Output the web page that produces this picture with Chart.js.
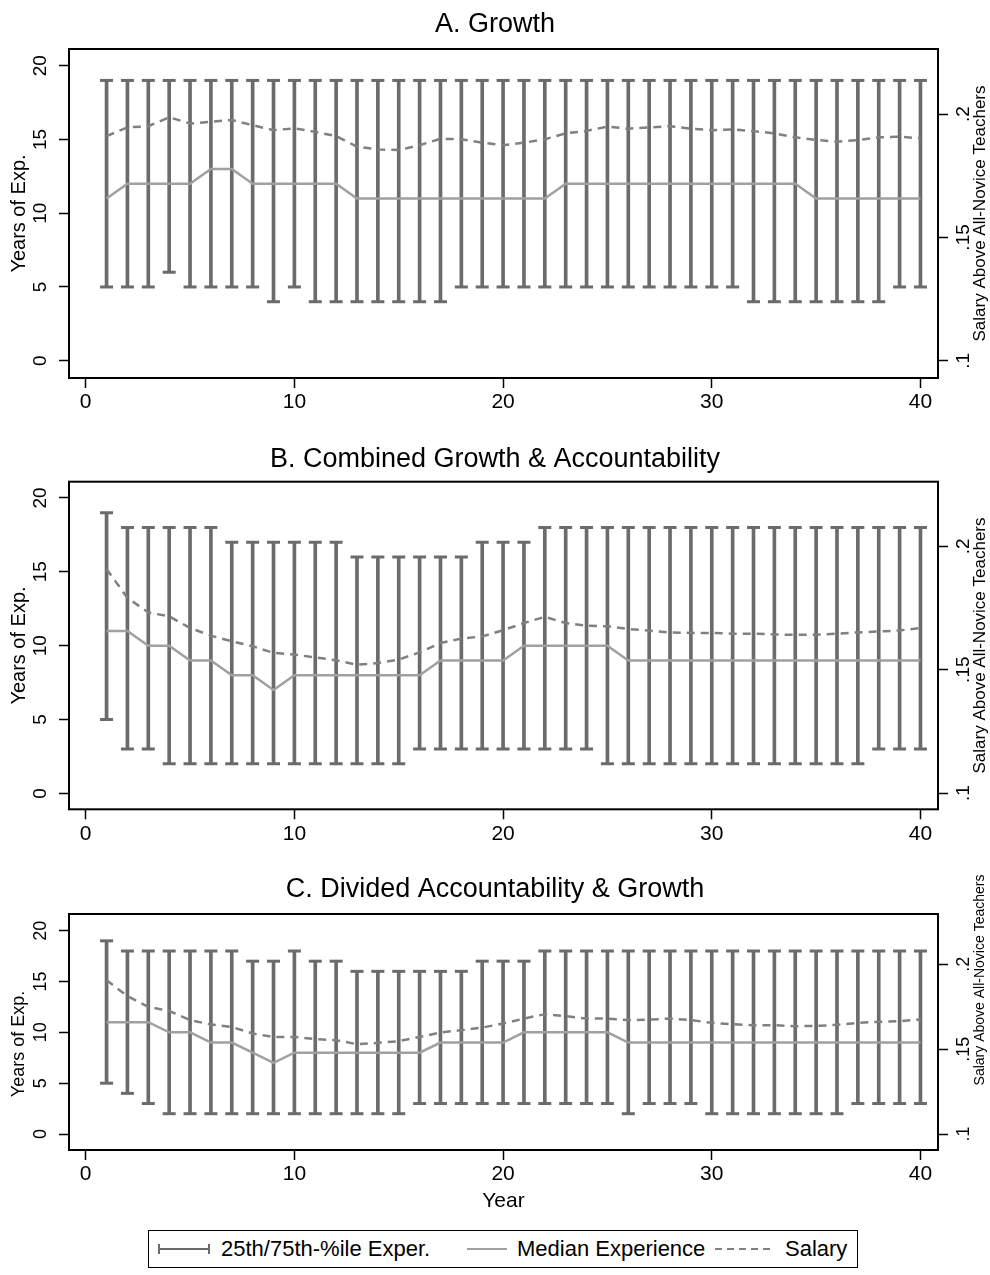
<!DOCTYPE html>
<html>
<head>
<meta charset="utf-8">
<script src="https://cdn.jsdelivr.net/npm/chart.js@4.4.1/dist/chart.umd.min.js"></script>
<style>
  body { margin: 0; background: #fff; width: 990px; height: 1275px; overflow: hidden; position: relative;
         font-family: 'Liberation Sans', Arial, sans-serif; }
  canvas { position: absolute; left: 0; }
  #legend { position: absolute; left: 148px; top: 1230px; width: 708px; height: 36px;
            border: 1.5px solid #000; font-size: 22px; color: #000; }
  #legend span, #legend svg { position: absolute; top: 50%; transform: translateY(-50%); white-space: nowrap; }
</style>
</head>
<body>
<canvas id="panel-a" width="990" height="430" style="top:0px"></canvas>
<canvas id="panel-b" width="990" height="432" style="top:430px"></canvas>
<canvas id="panel-c" width="990" height="360" style="top:862px"></canvas>
<div id="legend">
  <svg style="left:9px" width="52" height="14"><line x1="1" y1="7" x2="51" y2="7" stroke="#6b6b6b" stroke-width="2"/><line x1="1" y1="2" x2="1" y2="12" stroke="#6b6b6b" stroke-width="2"/><line x1="51" y1="2" x2="51" y2="12" stroke="#6b6b6b" stroke-width="2"/></svg>
  <span style="left:72px">25th/75th-%ile Exper.</span>
  <svg style="left:318px" width="40" height="14"><line x1="0" y1="7" x2="40" y2="7" stroke="#a0a0a0" stroke-width="2"/></svg>
  <span style="left:368px">Median Experience</span>
  <svg style="left:566px" width="58" height="14"><line x1="0" y1="7" x2="58" y2="7" stroke="#808080" stroke-width="2" stroke-dasharray="7,5"/></svg>
  <span style="left:636px">Salary</span>
</div>
<script>
const years = [1, 2, 3, 4, 5, 6, 7, 8, 9, 10, 11, 12, 13, 14, 15, 16, 17, 18, 19, 20,
               21, 22, 23, 24, 25, 26, 27, 28, 29, 30, 31, 32, 33, 34, 35, 36, 37, 38, 39, 40];
const xTicks = [0, 10, 20, 30, 40];
const expTicks = [0, 5, 10, 15, 20];
const salaryTicks = [0.1, 0.15, 0.2];
const salaryTickLabels = ['.1', '.15', '.2'];

// A. Growth
const growthLow = [5, 5, 5, 6, 5, 5, 5, 5, 4, 5, 4, 4, 4, 4, 4, 4, 4, 5, 5, 5,
                   5, 5, 5, 5, 5, 5, 5, 5, 5, 5, 5, 4, 4, 4, 4, 4, 4, 4, 5, 5];
const growthHigh = [19, 19, 19, 19, 19, 19, 19, 19, 19, 19, 19, 19, 19, 19, 19, 19, 19, 19, 19, 19,
                    19, 19, 19, 19, 19, 19, 19, 19, 19, 19, 19, 19, 19, 19, 19, 19, 19, 19, 19, 19];
const growthMedian = [11, 12, 12, 12, 12, 13, 13, 12, 12, 12, 12, 12, 11, 11, 11, 11, 11, 11, 11, 11,
                      11, 11, 12, 12, 12, 12, 12, 12, 12, 12, 12, 12, 12, 12, 11, 11, 11, 11, 11, 11];
const growthSalary = [0.1911, 0.1946, 0.1951, 0.1987, 0.1962, 0.1969, 0.1976, 0.1955, 0.1935, 0.1942,
                      0.1928, 0.1911, 0.1868, 0.1857, 0.1854, 0.1874, 0.1900, 0.1898, 0.1884, 0.1874,
                      0.1884, 0.1898, 0.1922, 0.1932, 0.1949, 0.1941, 0.1946, 0.1951, 0.1941, 0.1935,
                      0.1938, 0.1931, 0.1922, 0.1906, 0.1895, 0.1888, 0.1895, 0.1906, 0.1908, 0.1902];

// B. Combined Growth & Accountability
const combinedLow = [5, 3, 3, 2, 2, 2, 2, 2, 2, 2, 2, 2, 2, 2, 2, 3, 3, 3, 3, 3,
                     3, 3, 3, 3, 2, 2, 2, 2, 2, 2, 2, 2, 2, 2, 2, 2, 2, 3, 3, 3];
const combinedHigh = [19, 18, 18, 18, 18, 18, 17, 17, 17, 17, 17, 17, 16, 16, 16, 16, 16, 16, 17, 17,
                      17, 18, 18, 18, 18, 18, 18, 18, 18, 18, 18, 18, 18, 18, 18, 18, 18, 18, 18, 18];
const combinedMedian = [11, 11, 10, 10, 9, 9, 8, 8, 7, 8, 8, 8, 8, 8, 8, 8, 9, 9, 9, 9,
                        10, 10, 10, 10, 10, 9, 9, 9, 9, 9, 9, 9, 9, 9, 9, 9, 9, 9, 9, 9];
const combinedSalary = [0.1908, 0.1791, 0.1732, 0.1716, 0.1669, 0.1638, 0.1615, 0.1595, 0.1568, 0.1561,
                        0.1550, 0.1538, 0.1520, 0.1527, 0.1541, 0.1570, 0.1608, 0.1626, 0.1635, 0.1660,
                        0.1689, 0.1714, 0.1689, 0.1678, 0.1676, 0.1665, 0.1658, 0.1651, 0.1649, 0.1649,
                        0.1646, 0.1646, 0.1643, 0.1641, 0.1642, 0.1646, 0.1651, 0.1655, 0.1659, 0.1669];

// C. Divided Accountability & Growth
const dividedLow = [5, 4, 3, 2, 2, 2, 2, 2, 2, 2, 2, 2, 2, 2, 2, 3, 3, 3, 3, 3,
                    3, 3, 3, 3, 3, 2, 3, 3, 3, 2, 2, 2, 2, 2, 2, 2, 3, 3, 3, 3];
const dividedHigh = [19, 18, 18, 18, 18, 18, 18, 17, 17, 18, 17, 17, 16, 16, 16, 16, 16, 16, 17, 17,
                     17, 18, 18, 18, 18, 18, 18, 18, 18, 18, 18, 18, 18, 18, 18, 18, 18, 18, 18, 18];
const dividedMedian = [11, 11, 11, 10, 10, 9, 9, 8, 7, 8, 8, 8, 8, 8, 8, 8, 9, 9, 9, 9,
                       10, 10, 10, 10, 10, 9, 9, 9, 9, 9, 9, 9, 9, 9, 9, 9, 9, 9, 9, 9];
const dividedSalary = [0.1906, 0.1812, 0.1749, 0.1725, 0.1671, 0.1645, 0.1631, 0.1592, 0.1572, 0.1572,
                       0.1559, 0.1553, 0.1529, 0.1537, 0.1547, 0.1572, 0.1598, 0.1612, 0.1627, 0.1651,
                       0.1680, 0.1706, 0.1694, 0.1680, 0.1680, 0.1671, 0.1674, 0.1680, 0.1671, 0.1655,
                       0.1647, 0.1641, 0.1641, 0.1635, 0.1637, 0.1643, 0.1655, 0.1661, 0.1665, 0.1675];

const FONT = "'Liberation Sans', Arial, sans-serif";
const BAR_COLOR = '#6b6b6b';
const MEDIAN_COLOR = '#a0a0a0';
const SALARY_COLOR = '#808080';

Chart.defaults.font.family = FONT;
Chart.defaults.color = '#000';

// Stata-like frame, rotated y tick labels and side titles
const stataFrame = {
  id: 'stataFrame',
  afterDraw(chart) {
    const { ctx, chartArea: a, scales } = chart;
    const o = chart.options.plugins.stataFrame;
    const mid = (a.top + a.bottom) / 2;
    ctx.save();
    ctx.strokeStyle = '#000';
    ctx.lineWidth = 2;
    ctx.strokeRect(a.left, a.top, a.right - a.left, a.bottom - a.top);

    ctx.fillStyle = '#000';
    ctx.textAlign = 'center';
    ctx.textBaseline = 'middle';
    const rotText = (txt, x, y) => {
      ctx.save();
      ctx.translate(x, y);
      ctx.rotate(-Math.PI / 2);
      ctx.fillText(txt, 0, 0);
      ctx.restore();
    };
    ctx.font = o.tickSize + 'px ' + FONT;
    expTicks.forEach(v => rotText(String(v), 41, scales.y.getPixelForValue(v)));
    salaryTicks.forEach((v, i) => rotText(salaryTickLabels[i], 964, scales.y2.getPixelForValue(v)));

    ctx.font = o.leftTitleSize + 'px ' + FONT;
    rotText('Years of Exp.', 19, mid + o.leftTitleShift);
    ctx.font = o.rightTitleSize + 'px ' + FONT;
    rotText('Salary Above All-Novice Teachers', 980, mid + o.rightTitleShift);
    ctx.restore();
  }
};

function setTicks(values) {
  return scale => { scale.ticks = values.map(v => ({ value: v })); };
}

function renderPanel(canvasId, title, low, high, median, salary, opts) {
  const ctx = document.getElementById(canvasId).getContext('2d');
  const tickGrid = { display: true, drawOnChartArea: false, drawTicks: true, tickLength: 10,
                     tickWidth: 1.5, tickColor: '#000' };

  new Chart(ctx, {
    type: 'bar',
    data: {
      datasets: [
        {
          type: 'line', label: 'Salary', yAxisID: 'y2',
          data: years.map((x, i) => ({ x, y: salary[i] })),
          borderColor: SALARY_COLOR, borderWidth: 2.5, borderDash: [8, 6],
          pointRadius: 0, tension: 0, fill: false, order: 0
        },
        {
          type: 'line', label: 'Median Experience', yAxisID: 'y',
          data: years.map((x, i) => ({ x, y: median[i] })),
          borderColor: MEDIAN_COLOR, borderWidth: 2.5,
          pointRadius: 0, tension: 0, fill: false, order: 1
        },
        {
          type: 'bar', label: '25th/75th-%ile Exper.', yAxisID: 'y',
          data: years.map((x, i) => ({ x, y: [low[i], high[i]] })),
          backgroundColor: BAR_COLOR, borderWidth: 0, barThickness: 3, order: 3
        },
        {
          type: 'line', label: 'p25 cap', yAxisID: 'y', showLine: false,
          data: years.map((x, i) => ({ x, y: low[i] })),
          pointStyle: 'line', pointRadius: 6.5, pointBorderWidth: 3,
          pointBorderColor: BAR_COLOR, pointBackgroundColor: BAR_COLOR, order: 2
        },
        {
          type: 'line', label: 'p75 cap', yAxisID: 'y', showLine: false,
          data: years.map((x, i) => ({ x, y: high[i] })),
          pointStyle: 'line', pointRadius: 6.5, pointBorderWidth: 3,
          pointBorderColor: BAR_COLOR, pointBackgroundColor: BAR_COLOR, order: 2
        }
      ]
    },
    options: {
      responsive: false,
      devicePixelRatio: 1,
      animation: false,
      layout: { padding: 0 },
      plugins: {
        legend: { display: false },
        tooltip: { enabled: false },
        stataFrame: opts.text,
        title: {
          display: true, text: title, color: '#000',
          font: { size: 27, weight: 'normal', lineHeight: 1.2 },
          padding: opts.titlePad
        }
      },
      scales: {
        x: {
          type: 'linear', min: -0.8, max: 40.84, offset: false,
          grid: { ...tickGrid, offset: false },
          border: { display: false },
          afterBuildTicks: setTicks(xTicks),
          afterFit: s => { s.height = opts.xAxisHeight; },
          ticks: { font: { size: 21 }, color: '#000', maxRotation: 0, padding: 2 },
          title: {
            display: !!opts.xTitle, text: opts.xTitle || '', color: '#000',
            font: { size: 21 }, padding: { top: 0, bottom: 8 }
          }
        },
        y: {
          position: 'left', min: opts.expRange[0], max: opts.expRange[1],
          grid: tickGrid, border: { display: false },
          afterBuildTicks: setTicks(expTicks),
          afterFit: s => { s.width = 69; },
          ticks: { display: false }
        },
        y2: {
          position: 'right', min: opts.salRange[0], max: opts.salRange[1],
          grid: tickGrid, border: { display: false },
          afterBuildTicks: setTicks(salaryTicks),
          afterFit: s => { s.width = 52; },
          ticks: { display: false }
        }
      }
    },
    plugins: [stataFrame]
  });
}

const fullText = { tickSize: 19, leftTitleSize: 20, leftTitleShift: 0, rightTitleSize: 17, rightTitleShift: 0 };

renderPanel('panel-a', 'A. Growth', growthLow, growthHigh, growthMedian, growthSalary, {
  titlePad: { top: 8.8, bottom: 7.8 }, xAxisHeight: 52,
  expRange: [-1.17, 21.13], salRange: [0.093, 0.2264], text: fullText
});
renderPanel('panel-b', 'B. Combined Growth & Accountability', combinedLow, combinedHigh, combinedMedian, combinedSalary, {
  titlePad: { top: 13.8, bottom: 5.5 }, xAxisHeight: 52.7,
  expRange: [-1.08, 21.1], salRange: [0.0934, 0.2262], text: fullText
});
renderPanel('panel-c', 'C. Divided Accountability & Growth', dividedLow, dividedHigh, dividedMedian, dividedSalary, {
  titlePad: { top: 11.8, bottom: 7.8 }, xAxisHeight: 72, xTitle: 'Year',
  expRange: [-1.57, 21.64], salRange: [0.0906, 0.2296],
  text: { tickSize: 18, leftTitleSize: 18, leftTitleShift: 12, rightTitleSize: 14, rightTitleShift: -52 }
});
</script>
</body>
</html>
